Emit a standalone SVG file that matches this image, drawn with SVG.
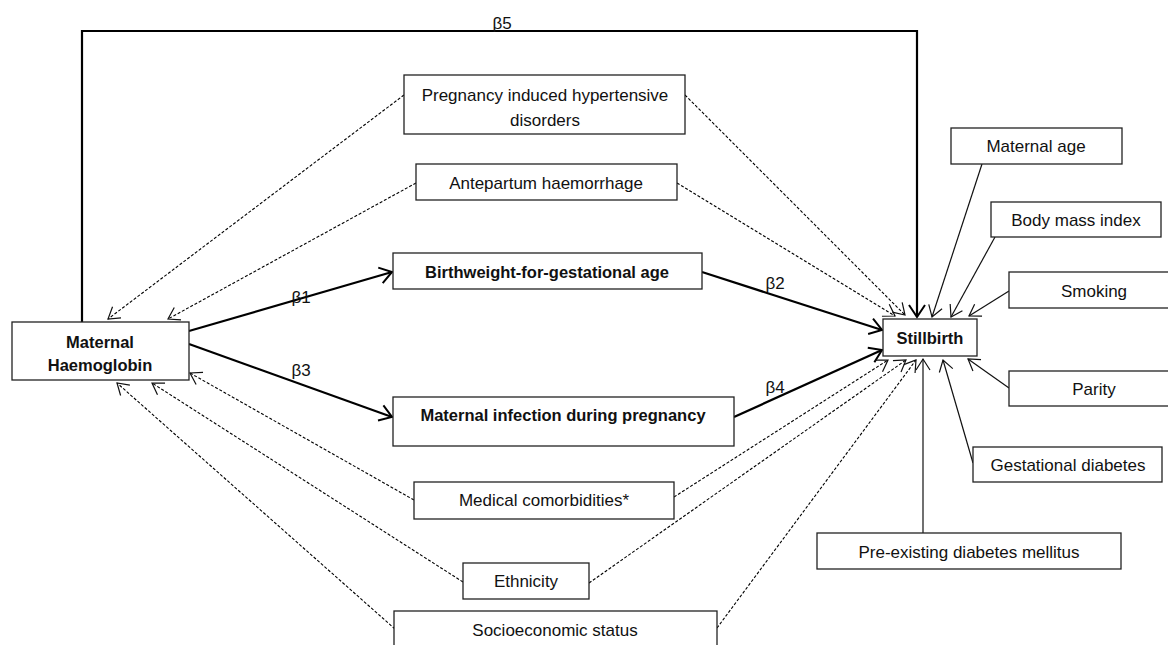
<svg xmlns="http://www.w3.org/2000/svg" width="1168" height="645" viewBox="0 0 1168 645">
<style>
.box{fill:#fff;stroke:#222;stroke-width:1.3}
.t{font-family:"Liberation Sans",Arial,sans-serif;font-size:17px;fill:#111;text-anchor:middle;dominant-baseline:central}
.b{font-weight:bold;font-size:16.5px}
.lbl{font-family:"Liberation Sans",Arial,sans-serif;font-size:17px;fill:#111;text-anchor:middle}
.bold{fill:none;stroke:#000;stroke-width:2.2;marker-end:url(#ah)}
.thin{fill:none;stroke:#111;stroke-width:1.2;marker-end:url(#at)}
.dash{fill:none;stroke:#000;stroke-width:1.1;stroke-dasharray:3 1.8;marker-end:url(#at)}
</style>
<defs>
<marker id="ah" viewBox="0 0 14 18" refX="13" refY="9" markerWidth="14" markerHeight="18" orient="auto" markerUnits="userSpaceOnUse" overflow="visible">
<path d="M1,1 L13,9 L1,17" fill="none" stroke="#000" stroke-width="2"/>
</marker>
<marker id="at" viewBox="0 0 14 18" refX="12" refY="9" markerWidth="14" markerHeight="18" orient="auto" markerUnits="userSpaceOnUse" overflow="visible">
<path d="M1,2 L12,9 L1,16" fill="none" stroke="#111" stroke-width="1.2"/>
</marker>
</defs>
<rect width="1168" height="645" fill="#fff"/>
<g id="connectors">
<path class="bold" d="M82,322 V31 H917 V317"/>
<path class="bold" d="M189,331 L392,272"/>
<path class="bold" d="M702,272 L882,330"/>
<path class="bold" d="M189,344 L392,417"/>
<path class="bold" d="M734,417 L882,350"/>
<path class="dash" d="M404,95 L108,319"/>
<path class="dash" d="M416,183 L168,319"/>
<path class="dash" d="M414,500 L190,373"/>
<path class="dash" d="M463,582 L152,383"/>
<path class="dash" d="M395,629 L117,383"/>
<path class="dash" d="M685,95 L905,315"/>
<path class="dash" d="M677,183 L895,316"/>
<path class="dash" d="M674,497 L888,360"/>
<path class="dash" d="M589,583 L906,360"/>
<path class="dash" d="M717,628 L916,360"/>
<path class="thin" d="M982,164 L932,317"/>
<path class="thin" d="M995,237 L951,317"/>
<path class="thin" d="M1009,291 L969,316"/>
<path class="thin" d="M1009,388 L968,359"/>
<path class="thin" d="M973,463 L943,360"/>
<path class="thin" d="M923,533 L923,359"/>
<text class="lbl" x="502" y="29">β5</text>
<text class="lbl" x="301" y="303">β1</text>
<text class="lbl" x="775" y="289">β2</text>
<text class="lbl" x="301" y="376">β3</text>
<text class="lbl" x="775" y="393">β4</text>
</g>
<g id="maternal-haemoglobin">
<rect class="box" x="12" y="322" width="177" height="58"/>
<text class="t b" x="100" y="342">Maternal</text>
<text class="t b" x="100" y="365">Haemoglobin</text>
</g>
<g id="pregnancy-hypertensive">
<rect class="box" x="404" y="75" width="281" height="59"/>
<text class="t" x="545" y="95">Pregnancy induced hypertensive</text>
<text class="t" x="545" y="120">disorders</text>
</g>
<g id="antepartum">
<rect class="box" x="416" y="164" width="261" height="36"/>
<text class="t" x="546" y="183">Antepartum haemorrhage</text>
</g>
<g id="birthweight">
<rect class="box" x="393" y="253" width="309" height="36"/>
<text class="t b" x="547" y="272">Birthweight-for-gestational age</text>
</g>
<g id="maternal-infection">
<rect class="box" x="393" y="397" width="341" height="49"/>
<text class="t b" x="563" y="415">Maternal infection during pregnancy</text>
</g>
<g id="medical-comorbidities">
<rect class="box" x="414" y="482" width="260" height="37"/>
<text class="t" x="544" y="500">Medical comorbidities*</text>
</g>
<g id="ethnicity">
<rect class="box" x="463" y="563" width="126" height="36"/>
<text class="t" x="526" y="581">Ethnicity</text>
</g>
<g id="socioeconomic">
<rect class="box" x="394" y="611" width="323" height="50"/>
<text class="t" x="555" y="630">Socioeconomic status</text>
</g>
<g id="stillbirth">
<rect class="box" x="883" y="319" width="94" height="37"/>
<text class="t b" x="930" y="338">Stillbirth</text>
</g>
<g id="maternal-age">
<rect class="box" x="951" y="128" width="171" height="36"/>
<text class="t" x="1036" y="146">Maternal age</text>
</g>
<g id="bmi">
<rect class="box" x="991" y="202" width="170" height="35"/>
<text class="t" x="1076" y="220">Body mass index</text>
</g>
<g id="smoking">
<rect class="box" x="1009" y="272" width="170" height="36"/>
<text class="t" x="1094" y="291">Smoking</text>
</g>
<g id="parity">
<rect class="box" x="1009" y="371" width="170" height="35"/>
<text class="t" x="1094" y="389">Parity</text>
</g>
<g id="gestational-diabetes">
<rect class="box" x="973" y="447" width="189" height="35"/>
<text class="t" x="1068" y="465">Gestational diabetes</text>
</g>
<g id="preexisting-diabetes">
<rect class="box" x="817" y="533" width="304" height="36"/>
<text class="t" x="969" y="552">Pre-existing diabetes mellitus</text>
</g>
</svg>
